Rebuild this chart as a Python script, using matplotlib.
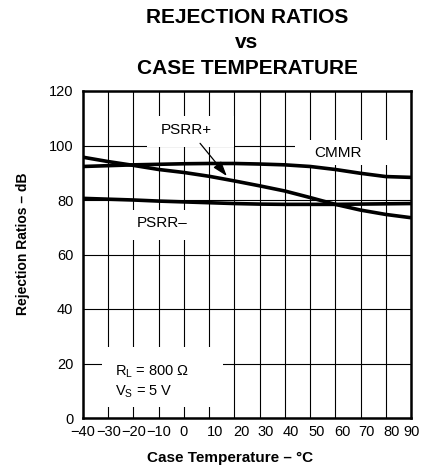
import matplotlib
matplotlib.use("Agg")
import matplotlib.pyplot as plt
from matplotlib.patches import Rectangle
from matplotlib.transforms import ScaledTranslation

plt.rcParams['font.family'] = ['Liberation Sans', 'DejaVu Sans']

temps = [-40, -30, -20, -10, 0, 10, 20, 30, 40, 50, 60, 70, 80, 90]
psrr_pos = [95.7, 94.1, 92.7, 91.2, 90.1, 88.7, 87.0, 85.2, 83.3, 80.9, 78.4, 76.3, 74.7, 73.5]
cmmr = [92.3, 92.6, 92.9, 93.1, 93.3, 93.4, 93.4, 93.2, 92.9, 92.3, 91.2, 89.8, 88.6, 88.3]
psrr_neg = [80.6, 80.3, 80.0, 79.6, 79.3, 79.0, 78.7, 78.5, 78.4, 78.4, 78.4, 78.5, 78.6, 78.7]

x_ticks = list(range(-40, 91, 10))
y_ticks = [0, 20, 40, 60, 80, 100, 120]
# the original typesetting nudges the positive labels a bit to the right (pixels)
x_label_shift = [0, 0, 0, 0, 0, 6, 7, 6, 6, 7, 7, 6, 6, 1]

fig = plt.figure(figsize=(4.44, 4.67), dpi=100)
ax = fig.add_axes([83 / 444, 49 / 467, 328 / 444, 327 / 467])

for vals in (psrr_pos, cmmr, psrr_neg):
    ax.plot(temps, vals, color='black', lw=2.6, solid_capstyle='butt', zorder=3)

ax.set_xlim(-40, 90)
ax.set_ylim(0, 120)
ax.set_xticks(x_ticks)
ax.set_yticks(y_ticks)
ax.grid(True, color='black', lw=0.8)
ax.set_axisbelow(True)
ax.tick_params(length=0, labelsize=10.5)
ax.tick_params(axis='y', pad=7)
ax.tick_params(axis='x', pad=5)
for s in ax.spines.values():
    s.set_linewidth(1.8)

for lab, dx in zip(ax.get_xticklabels(), x_label_shift):
    lab.set_transform(lab.get_transform() + ScaledTranslation(dx / 100, 0, fig.dpi_scale_trans))

# white patches that break the grid behind the labels
for (x0, y0, x1, y1) in [(-14.5, 99.3, 20, 111), (44, 93, 90, 102),
                         (-27, 65.5, 8, 76.3), (-32.5, 4, 15.5, 26)]:
    ax.add_patch(Rectangle((x0, y0), x1 - x0, y1 - y0, facecolor='white',
                           edgecolor='none', zorder=1))

ax.text(1.1, 105.7, 'PSRR+', ha='center', va='center', fontsize=11, zorder=4)
ax.text(61, 97.1, 'CMMR', ha='center', va='center', fontsize=11, zorder=4)
ax.text(-8.8, 71.4, 'PSRR–', ha='center', va='center', fontsize=11, zorder=4)
ax.text(-27.3, 17.0, '$\\mathregular{R_L}$ = 800 Ω', ha='left', va='center', fontsize=10.5, zorder=4)
ax.text(-27.3, 9.7, '$\\mathregular{V_S}$ = 5 V', ha='left', va='center', fontsize=10.5, zorder=4)

ax.annotate('', xy=(17, 88.8), xytext=(6.4, 100.8),
            arrowprops=dict(arrowstyle='-|>,head_length=0.9,head_width=0.3',
                            color='black', lw=0.9, shrinkA=0, shrinkB=0), zorder=4)

fig.text(247 / 444, 1 - 8 / 467, 'REJECTION RATIOS\nvs\nCASE TEMPERATURE',
         ha='center', va='top', fontsize=15, fontweight='bold', linespacing=1.42)
fig.text(230 / 444, 1 - 458 / 467, 'Case Temperature – °C', ha='center', va='center',
         fontsize=11, fontweight='bold')
fig.text(23 / 444, 1 - 243.5 / 467, 'Rejection Ratios – dB', ha='center', va='center',
         rotation=90, fontsize=10, fontweight='bold')

fig.savefig('out.png', dpi=100)
